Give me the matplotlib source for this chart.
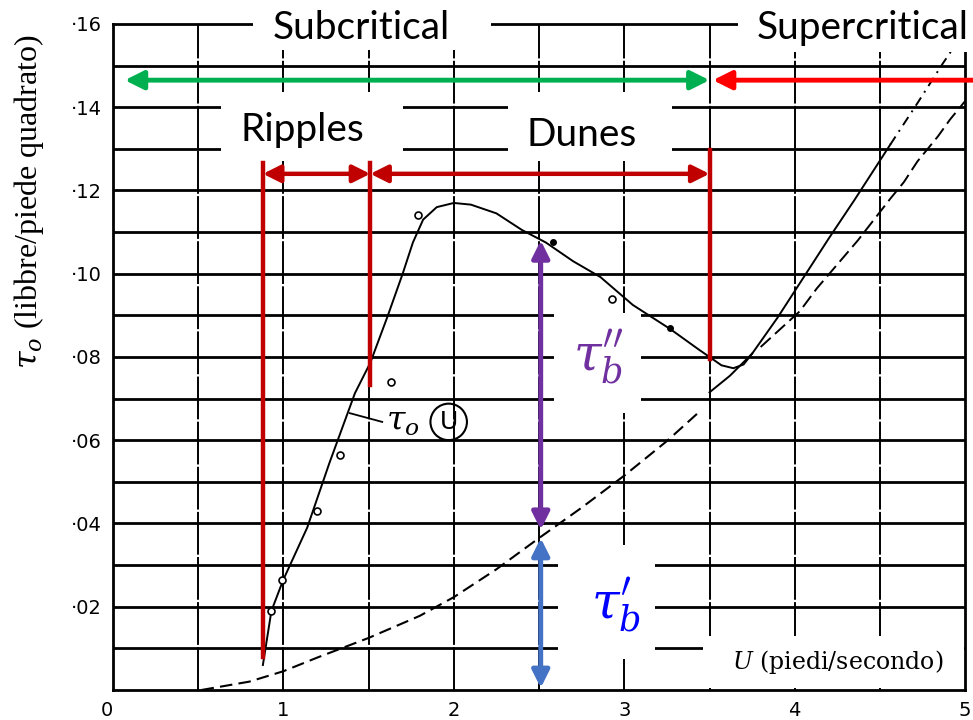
import matplotlib.pyplot as plt
import matplotlib.patches as patches
import numpy as np

# total bed shear stress tau_0(U)
total_u = [0.88, 0.93, 1.00, 1.14, 1.27, 1.42, 1.51, 1.61, 1.70, 1.76, 1.82,
           1.90, 2.00, 2.10, 2.25, 2.40, 2.54, 2.70, 2.86, 3.05, 3.27, 3.44,
           3.50, 3.57, 3.64, 3.70, 3.75]
total_tau = [0.006, 0.019, 0.0265, 0.039, 0.0545, 0.0713, 0.0786, 0.0896, 0.100,
             0.1075, 0.1130, 0.1160, 0.1170, 0.1166, 0.1145, 0.1105, 0.1075,
             0.1030, 0.0992, 0.0925, 0.0867, 0.0817, 0.0800, 0.0780, 0.0773,
             0.0782, 0.0808]

# grain (skin) stress tau_b', dashed
grain_u = [0.52, 0.80, 1.00, 1.20, 1.50, 1.80, 2.00, 2.25, 2.50, 2.75, 3.00, 3.25, 3.45]
grain_tau = [0.0, 0.0020, 0.0045, 0.0078, 0.0125, 0.0178, 0.0223, 0.0290,
             0.0365, 0.0438, 0.0515, 0.0598, 0.0672]

# upper regime line (solid then dash-dot)
upper_u = [3.50, 3.62, 3.75, 3.90, 4.05, 4.20, 4.35, 4.56]
upper_tau = [0.0715, 0.0755, 0.0808, 0.0895, 0.0990, 0.1085, 0.1177, 0.1310]
upper_dd_u = [4.56, 4.72, 4.87, 4.96]
upper_dd_tau = [0.1310, 0.1410, 0.1506, 0.1560]

# second dashed line on the right
line2_u = [3.80, 4.03, 4.13, 4.37, 4.56, 4.64, 4.72, 4.84, 4.91, 5.00]
line2_tau = [0.0824, 0.0910, 0.0965, 0.1080, 0.1180, 0.1220, 0.1270, 0.1330,
             0.1370, 0.1415]

# measured points
open_u = [0.93, 0.99, 1.20, 1.33, 1.63, 1.79, 2.93]
open_tau = [0.019, 0.0265, 0.043, 0.0565, 0.074, 0.114, 0.094]
dot_u = [2.58, 3.27]
dot_tau = [0.1077, 0.087]

# regime boundaries
ripple_start = 0.88
dune_start = 1.51
transition = 3.50
u_probe = 2.51

xticks = [0, 1, 2, 3, 4, 5]
yticks = [0.02, 0.04, 0.06, 0.08, 0.10, 0.12, 0.14, 0.16]
ytick_labels = ["·02", "·04", "·06", "·08", "·10", "·12", "·14", "·16"]

plt.rcParams["mathtext.fontset"] = "dejavuserif"

fig = plt.figure(figsize=(9.73, 7.2), dpi=100)
ax = fig.add_axes([0.116, 0.0417, 0.876, 0.925])
ax.set_xlim(0, 5)
ax.set_ylim(0, 0.16)

# grid
for yv in np.arange(0.01, 0.16, 0.01):
    ax.axhline(yv, color="black", lw=2.0, zorder=1)
for xv in np.arange(0.5, 5.0, 0.5):
    ax.axvline(xv, color="black", lw=1.4, ls=(0, (22, 1.2)), zorder=1)
for s in ax.spines.values():
    s.set_linewidth(2.0)

ax.set_xticks(xticks)
ax.set_xticklabels([str(t) for t in xticks], fontsize=14, family="DejaVu Sans")
ax.get_xticklabels()[0].set_horizontalalignment("right")
ax.set_yticks(yticks)
ax.set_yticklabels(ytick_labels, fontsize=14, family="DejaVu Sans")
ax.tick_params(length=0, pad=8)

# curves
ax.plot(total_u, total_tau, color="black", lw=1.4, zorder=2)
ax.plot(grain_u, grain_tau, color="black", lw=1.5, ls=(0, (6, 3)), zorder=2)
ax.plot(upper_u, upper_tau, color="black", lw=1.4, zorder=2)
ax.plot(upper_dd_u, upper_dd_tau, color="black", lw=1.4, ls=(0, (5, 3, 1, 3)), zorder=2)
ax.plot(line2_u, line2_tau, color="black", lw=1.4, ls=(0, (7, 3)), zorder=2)
ax.plot(open_u, open_tau, "o", ms=5, mfc="white", mec="black", mew=1.2, zorder=2)
ax.plot(dot_u, dot_tau, "o", ms=4, color="black", zorder=2)

# tau_0(U) note
ax.plot([1.39, 1.58], [0.0665, 0.0644], color="black", lw=1.3, zorder=2)
ax.text(1.70, 0.0645, r"$\tau_o$", fontsize=24, ha="center", va="center", zorder=2)
ax.text(1.97, 0.0644, "U", fontsize=18, ha="center", va="center", zorder=2,
        bbox=dict(boxstyle="circle,pad=0.25", fc="none", ec="black", lw=1.5))

# white label boxes
boxes = [
    (0.82, 0.1538, 1.40, 0.02),   # Subcritical
    (3.67, 0.1533, 1.45, 0.02),   # Supercritical
    (0.634, 0.1270, 1.066, 0.0167),  # Ripples
    (2.318, 0.1270, 0.962, 0.0167),  # Dunes
    (2.59, 0.0665, 0.51, 0.0240),  # tau_b''
    (2.61, 0.0075, 0.57, 0.0273),  # tau_b'
    (3.46, 0.0005, 1.535, 0.0125),  # U label
]
for bx, by, bw, bh in boxes:
    ax.add_patch(patches.Rectangle((bx, by), bw, bh, fc="white", ec="none",
                                   zorder=3, clip_on=False))

# regime arrows
green = "#00B050"
red = "#FF0000"
dred = "#C00000"
purple = "#7030A0"
blue = "#4472C4"

ax.annotate("", xy=(0.07, 0.1465), xytext=(transition, 0.1465),
            arrowprops=dict(arrowstyle="<|-|>", color=green, lw=3.5,
                            mutation_scale=28, shrinkA=0, shrinkB=0), zorder=5)
ax.annotate("", xy=(transition + 0.02, 0.1465), xytext=(5.1, 0.1465),
            annotation_clip=False,
            arrowprops=dict(arrowstyle="-|>", color=red, lw=3.5,
                            mutation_scale=28, shrinkA=0, shrinkB=0), zorder=5)

ax.plot([ripple_start, ripple_start], [0.1266, 0.008], color=dred, lw=3.2, zorder=4)
ax.plot([dune_start, dune_start], [0.1266, 0.0733], color=dred, lw=3.2, zorder=4)
ax.plot([transition, transition], [0.1297, 0.0795], color=dred, lw=3.2, zorder=4)

ax.annotate("", xy=(ripple_start, 0.124), xytext=(dune_start, 0.124),
            arrowprops=dict(arrowstyle="<|-|>", color=dred, lw=3.2,
                            mutation_scale=26, shrinkA=0, shrinkB=0), zorder=5)
ax.annotate("", xy=(dune_start, 0.124), xytext=(transition, 0.124),
            arrowprops=dict(arrowstyle="<|-|>", color=dred, lw=3.2,
                            mutation_scale=26, shrinkA=0, shrinkB=0), zorder=5)

ax.annotate("", xy=(u_probe, 0.108), xytext=(u_probe, 0.0385),
            arrowprops=dict(arrowstyle="<|-|>", color=purple, lw=3.5,
                            mutation_scale=26, shrinkA=0, shrinkB=0), zorder=5)
ax.annotate("", xy=(u_probe, 0.0365), xytext=(u_probe, 0.0005),
            arrowprops=dict(arrowstyle="<|-|>", color=blue, lw=3.5,
                            mutation_scale=26, shrinkA=0, shrinkB=0), zorder=5)

# labels
lab = dict(family="Lato", fontsize=28, ha="center", va="center", zorder=6)
ax.text(1.455, 0.1590, "Subcritical", clip_on=False, **lab)
ax.text(4.40, 0.1590, "Supercritical", clip_on=False, **lab)
ax.text(1.11, 0.1345, "Ripples", **lab)
ax.text(2.75, 0.1333, "Dunes", **lab)

ax.text(2.85, 0.0800, r"$\tau_b''$", color=purple, fontsize=36,
        ha="center", va="center", zorder=6)
ax.text(2.95, 0.0205, r"$\tau_b'$", color="#0000FF", fontsize=36,
        ha="center", va="center", zorder=6)

ax.text(4.25, 0.0068, r"$U$ (piedi/secondo)", family="DejaVu Serif", fontsize=17,
        ha="center", va="center", zorder=6)

fig.text(0.030, 0.72, r"$\tau_o$ (libbre/piede quadrato)", family="Liberation Serif",
         fontsize=23, rotation=90, ha="center", va="center")

fig.savefig("out.png", dpi=100)
